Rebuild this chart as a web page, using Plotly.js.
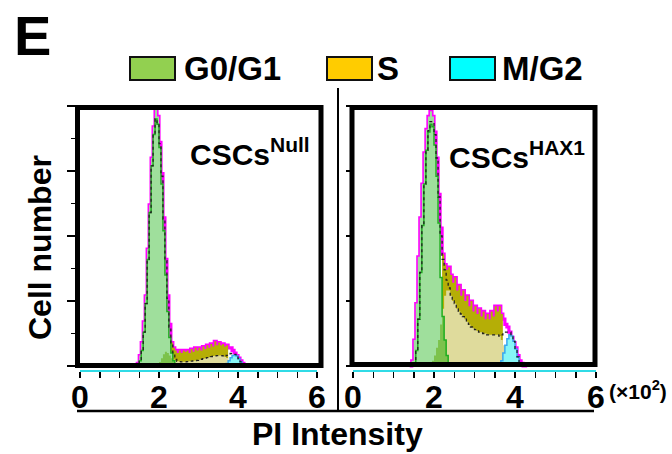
<!DOCTYPE html>
<html>
<head>
<meta charset="utf-8">
<script src="https://cdn.plot.ly/plotly-3.0.1.min.js"></script>
<style>
html,body{margin:0;padding:0;background:#ffffff;}
#chart{width:672px;height:454px;}
</style>
</head>
<body>
<div id="chart"></div>
<script>
// ---------- DATA ----------
// PI intensity bins (x 10^2)
const bins = [1.40,1.45,1.50,1.55,1.60,1.65,1.70,1.75,1.80,1.85,
              1.90,1.95,2.00,2.05,2.10,2.15,2.20,2.25,2.30,2.35,
              2.40,2.45,2.50,2.55,2.60,2.65,2.70,2.75,2.80,2.85,
              2.90,2.95,3.00,3.05,3.10,3.15,3.20,3.25,3.30,3.35,
              3.40,3.45,3.50,3.55,3.60,3.65,3.70,3.75,3.80,3.85,
              3.90,3.95,4.00,4.05,4.10,4.15,4.20,4.25,4.30];

const phaseNames  = ['G0/G1', 'S', 'M/G2'];
const phaseColors = ['#92d050', '#ffcc00', '#00ffff'];
const panelLabels = ['CSCs<sup>Null</sup>', 'CSCs<sup>HAX1</sup>'];
const xTickVals = [0, 2, 4, 6];
const xTickText = ['0', '2', '4', '6'];

// CSCs Null : raw histogram and fitted phases
const rawNull = [0,1,4,9,17,27,45,62,80,92,
                 99,96,86,74,57,41,27,16,9,7,
                 6,5,6,5,6,5.5,6,5,6.5,5.5,
                 7,6,7,6,7.5,6.5,8,7,8.5,7.5,
                 9.5,8,9,8,8.5,7.5,8,7,7,6,
                 5,4,3,2,1,0.5,0,0,0];
const g1Null  = [0,0,2,6,13,24,41,59,77,89,
                 95,93,84,70,52,35,21,11,5,2,
                 0.5,0,0,0,0,0,0,0,0,0,
                 0,0,0,0,0,0,0,0,0,0,
                 0,0,0,0,0,0,0,0,0,0,
                 0,0,0,0,0,0,0,0,0];
const sNull   = [0,0,0,0,0,0,0,0,0,0,
                 0,0,1.5,3,4.5,5.5,5,4,3,2.5,
                 2,1.8,1.7,1.6,1.6,1.6,1.7,1.8,1.9,2,
                 2.1,2.2,2.4,2.6,2.8,3,3.2,3.4,3.6,3.8,
                 3.9,4,4,4,3.9,3.6,3.1,2.4,1.6,0.8,
                 0.3,0,0,0,0,0,0,0,0];
const g2Null  = [0,0,0,0,0,0,0,0,0,0,
                 0,0,0,0,0,0,0,0,0,0,
                 0,0,0,0,0,0,0,0,0,0,
                 0,0,0,0,0,0,0,0,0,0,
                 0,0,0,0,0,0,1,2,3.2,4,
                 4.2,3.8,2.8,1.6,0.6,0,0,0,0];

// CSCs HAX1 : raw histogram and fitted phases
const rawHax  = [0,2,10,24,42,57,70,82,91,96,
                 98,96,90,80,66,53,43,39,37,38,
                 35,32,34,29,31,27,29,25,27,23,
                 25,21,23,20,22,19,21,18,20,18,
                 21,19,23,21,23,20,18,16,15,13,
                 11,9,7,4,2,1,0,0,0];
const g1Hax   = [0,0,1,6,18,36,54,70,83,90,
                 93,92,85,73,55,34,19,10,4,1,
                 0,0,0,0,0,0,0,0,0,0,
                 0,0,0,0,0,0,0,0,0,0,
                 0,0,0,0,0,0,0,0,0,0,
                 0,0,0,0,0,0,0,0,0];
const sHax    = [0,0,0,0,0,0,0,0,0,0.5,
                 1,2,4,7,10,16,22,27,29,29,
                 27,25,24,22,21,20,19,18,17,16,
                 15,14.5,14,13.5,13,13,12.5,12.5,12,12,
                 12,12,12,12,11.5,10,8,5,2.5,1,
                 0,0,0,0,0,0,0,0,0];
const g2Hax   = [0,0,0,0,0,0,0,0,0,0,
                 0,0,0,0,0,0,0,0,0,0,
                 0,0,0,0,0,0,0,0,0,0,
                 0,0,0,0,0,0,0,0,0,0,
                 0,0,0,0,0,2,5,8,10.5,12,
                 11.5,9.5,6.5,3.5,1,0,0,0,0];

// ---------- DRAWING ----------
const W = 672, H = 454;
const px = x => x / W;
const py = y => 1 - y / H;
const FONT = 'Liberation Sans, Arial, sans-serif';

function subset(xs, ys, lo, hi) {
  const a = [], b = [];
  xs.forEach((x, i) => { if (x >= lo - 1e-9 && x <= hi + 1e-9) { a.push(x); b.push(ys[i]); } });
  return {x: a, y: b};
}

function panelTraces(raw, g1, s, g2, xa, ya, oliveLo, oliveHi) {
  const overlap = g1.map((v, i) => Math.min(v, s[i]));
  const fitSum = g1.map((v, i) => v + s[i] + g2[i]);
  const rawGreen = subset(bins, raw, 1.40, 2.00);
  const rawOlive = subset(bins, raw, oliveLo, oliveHi);
  const base = {xaxis: xa, yaxis: ya, mode: 'lines', hoverinfo: 'skip', showlegend: false};
  return [
    Object.assign({}, base, {x: bins, y: raw, line: {color: '#ff00ff', width: 3.2, shape: 'hv'}}),
    Object.assign({}, base, {x: rawGreen.x, y: rawGreen.y, fill: 'tozeroy', fillcolor: '#9fdf9c',
      line: {width: 0, shape: 'hv'}}),
    Object.assign({}, base, {x: rawOlive.x, y: rawOlive.y, fill: 'tozeroy', fillcolor: '#b5ae06',
      line: {width: 0, shape: 'hv'}}),
    Object.assign({}, base, {x: bins, y: s, fill: 'tozeroy', fillcolor: '#dfdb9c',
      line: {width: 0, shape: 'hv'}}),
    Object.assign({}, base, {x: bins, y: g1, fill: 'tozeroy', fillcolor: '#9fdf9c',
      line: {width: 0, shape: 'hv'}}),
    Object.assign({}, base, {x: bins, y: overlap, fill: 'tozeroy', fillcolor: '#7cc24c',
      line: {width: 0, shape: 'hv'}}),
    Object.assign({}, base, {x: bins, y: g1, line: {color: '#1fae1f', width: 1.5, shape: 'hv'}}),
    Object.assign({}, base, {x: bins, y: g2, fill: 'tozeroy', fillcolor: '#86f6f6',
      line: {color: '#38a8f0', width: 1.5, shape: 'hv'}}),
    Object.assign({}, base, {x: bins, y: fitSum, line: {color: '#222222', width: 1.3, dash: '3px,3px', shape: 'hv'}})
  ];
}

const data = [].concat(
  panelTraces(rawNull, g1Null, sNull, g2Null, 'x', 'y', 2.30, 3.75),
  panelTraces(rawHax, g1Hax, sHax, g2Hax, 'x2', 'y2', 2.20, 3.70)
);

function xAxis(d0, d1, anchor) {
  return {
    domain: [px(d0), px(d1)], anchor: anchor, range: [0, 6],
    showline: true, linecolor: '#30dbe6', linewidth: 2,
    ticks: 'outside', ticklen: 6, tickwidth: 1.5, tickcolor: '#000000',
    tickvals: xTickVals, ticktext: xTickText,
    ticklabelstandoff: -8,
    tickfont: {family: FONT, size: 32, weight: 'bold', color: '#000000'},
    minor: {dtick: 0.5, tick0: 0, ticks: 'outside', ticklen: 6, tickwidth: 1.5, tickcolor: '#000000', showgrid: false},
    showgrid: false, zeroline: false, fixedrange: true
  };
}
function yAxis(anchor, len) {
  return {
    domain: [py(370), py(106)], anchor: anchor, range: [-1.54, 100],
    showline: false, ticks: 'outside', ticklen: len, tickwidth: 1.5, tickcolor: '#000000',
    tick0: 0, dtick: 25, showticklabels: false,
    minor: {dtick: 12.5, tick0: 0, ticks: 'outside', ticklen: len - 4, tickwidth: 1.2, tickcolor: '#000000', showgrid: false},
    showgrid: false, zeroline: false, fixedrange: true
  };
}

function rectPx(x0, y0, x1, y1, extra) {
  return Object.assign({type: 'rect', xref: 'paper', yref: 'paper',
    x0: px(x0), x1: px(x1), y0: py(y1), y1: py(y0)}, extra);
}
function linePx(x0, y0, x1, y1, w) {
  return {type: 'line', xref: 'paper', yref: 'paper', x0: px(x0), x1: px(x1), y0: py(y0), y1: py(y1),
    line: {color: '#000000', width: w}, layer: 'above'};
}

const shapes = [
  rectPx(77.5, 107.5, 321, 365.5, {line: {color: '#000000', width: 5}, layer: 'above'}),
  rectPx(352, 107.5, 595, 364.5, {line: {color: '#000000', width: 5}, layer: 'above'}),
  linePx(338, 88, 338, 410, 2),
  linePx(77, 411, 594, 411, 2.5)
];
const legendBoxes = [[130, 57, 175, 80], [327, 57, 372, 80], [450, 57, 495, 80]];
const legendTextX = [182, 375, 500];
legendBoxes.forEach((b, i) => {
  shapes.push(rectPx(b[0], b[1], b[2], b[3], {fillcolor: phaseColors[i], line: {color: '#111111', width: 2}, layer: 'above'}));
});

function ann(text, x, y, size, opts) {
  return Object.assign({text: text, xref: 'paper', yref: 'paper', x: px(x), y: py(y),
    xanchor: 'left', yanchor: 'middle', showarrow: false,
    font: {family: FONT, size: size, weight: 'bold', color: '#000000'}}, opts || {});
}

const annotations = [
  ann('E', 12, 35, 54, {font: {family: 'Liberation Sans Narrow, ' + FONT, size: 56, weight: 'bold', color: '#000'}}),
  ann(panelLabels[0], 188, 152, 30),
  ann(panelLabels[1], 447, 155, 30),
  ann('Cell number', 40, 248, 32, {xanchor: 'center', textangle: -90}),
  ann('PI Intensity', 337, 453, 32, {xanchor: 'center', yanchor: 'bottom', borderpad: 0}),
  ann('(\u00d710<sup>2</sup>)', 607, 390, 21)
];
phaseNames.forEach((n, i) => annotations.push(ann(n, legendTextX[i], 69, 33)));

const layout = {
  width: W, height: H,
  margin: {l: 0, r: 0, t: 0, b: 0},
  paper_bgcolor: '#ffffff', plot_bgcolor: 'rgba(0,0,0,0)',
  showlegend: false,
  font: {family: FONT, color: '#000000'},
  xaxis: xAxis(80, 317, 'y'),
  yaxis: yAxis('x', 12),
  xaxis2: xAxis(353, 596, 'y2'),
  yaxis2: yAxis('x2', 6),
  shapes: shapes,
  annotations: annotations
};

Plotly.newPlot('chart', data, layout, {displayModeBar: false, staticPlot: true});
</script>
</body>
</html>
